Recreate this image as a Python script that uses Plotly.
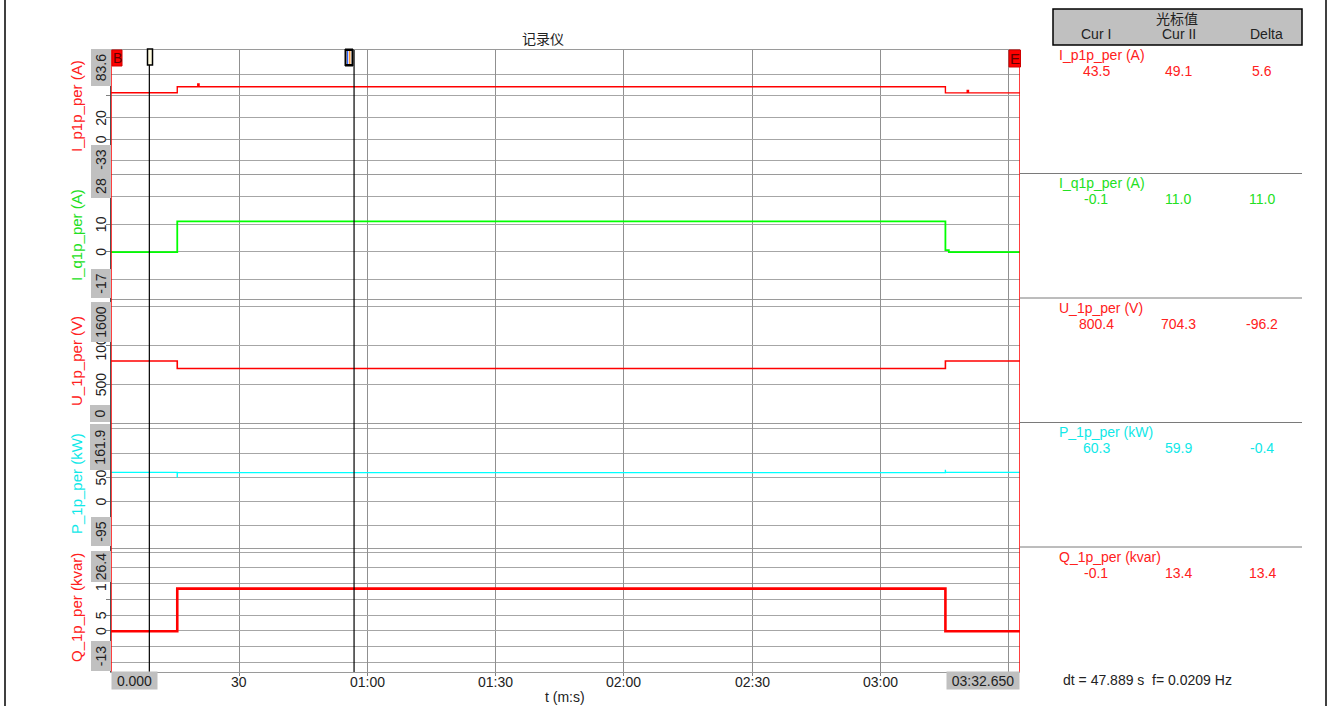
import plotly.graph_objects as go
from plotly.subplots import make_subplots

# ---------------- data ----------------
t_end = 212.65            # s, end of record (03:32.650)
cursor_1 = 8.97           # s, cursor I
cursor_2 = 56.86          # s, cursor II

time_tick_vals = [30, 60, 90, 120, 150, 180, 210]
time_tick_text = ["30", "01:00", "01:30", "02:00", "02:30", "03:00", ""]

t_ip = [0, 15.5, 15.5, 20.3, 20.3, 20.6, 20.6, 195.2, 195.2, 200.3, 200.3, 200.6, 200.6, 212.65]
v_ip = [43.5, 43.5, 49.1, 49.1, 51.8, 51.8, 49.1, 49.1, 43.4, 43.4, 45.6, 45.6, 43.4, 43.4]

t_iq = [0, 15.5, 15.5, 195.2, 195.2, 196.0, 196.0, 212.65]
v_iq = [-0.1, -0.1, 11.0, 11.0, 0.6, 0.6, -0.1, -0.1]

t_u = [0, 15.5, 15.5, 195.2, 195.2, 212.65]
v_u = [800.4, 800.4, 704.3, 704.3, 800.4, 800.4]

t_p = [0, 15.5, 15.5, 15.5, 195.2, 195.2, 195.2, 212.65]
v_p = [60.3, 60.3, 50.0, 59.9, 59.9, 66.0, 60.3, 60.3]

t_q = [0, 15.5, 15.5, 195.2, 195.2, 212.65]
v_q = [-0.1, -0.1, 13.4, 13.4, -0.1, -0.1]

series_t = [t_ip, t_iq, t_u, t_p, t_q]
series_v = [v_ip, v_iq, v_u, v_p, v_q]
names = ["I_p1p_per (A)", "I_q1p_per (A)", "U_1p_per (V)", "P_1p_per (kW)", "Q_1p_per (kvar)"]
line_colors = ["#ff0000", "#00ff00", "#ff0000", "#00ffff", "#ff0000"]
text_colors = ["#ff2020", "#22e022", "#ff2020", "#10e8e8", "#ff2020"]
line_widths = [1.4, 1.8, 1.6, 1.4, 2.6]

y_min = [-33, -17, 0, -95, -13]
y_max = [83.6, 28, 1600, 161.9, 26.4]
y_min_text = ["-33", "-17", "0", "-95", "-13"]
y_max_text = ["83.6", "28", "1600", "161.9", "26.4"]
grid_vals = [[-20, 0, 20, 41, 61], [-10, 0, 10, 20], [500, 1000, 1500],
             [-50, 0, 50, 100, 150], [-10, -5, 0, 5, 10, 15, 20, 25]]
arrow_ticks = [[0, 20, 41], [0, 10], [500, 1000], [0, 50], [0, 5, 10]]
label_vals = [[0, 20], [0, 10], [500, 1000], [0, 50], [0, 5, 13.9]]
label_text = [["0", "20"], ["0", "10"], ["500", "1000"], ["0", "50"], ["0", "5", "1"]]

cur1_vals = ["43.5", "-0.1", "800.4", "60.3", "-0.1"]
cur2_vals = ["49.1", "11.0", "704.3", "59.9", "13.4"]
delta_vals = ["5.6", "11.0", "-96.2", "-0.4", "13.4"]
dt_text = "dt = 47.889 s  f= 0.0209 Hz"

# ---------------- layout helpers (pixel -> paper) ----------------
W, H = 1328, 706
L, R, T, B = 111, 1020, 50, 672
PW, PH = R - L, B - T


def px(x):
    return (x - L) / PW


def py(y):
    return (B - y) / PH


FONT = "Liberation Sans, Arial, sans-serif"
TXT = "#222222"


def note(x, y, text, xref="paper", yref="paper", size=14, color=TXT, family=FONT,
         xanchor="center", yanchor="middle", **kw):
    d = dict(x=x, y=y, xref=xref, yref=yref, text=text, showarrow=False,
             xanchor=xanchor, yanchor=yanchor,
             font=dict(family=family, size=size, color=color))
    d.update(kw)
    return d


fig = make_subplots(rows=5, cols=1, shared_xaxes=True, vertical_spacing=0)

for i in range(5):
    fig.add_trace(go.Scatter(x=series_t[i], y=series_v[i], mode="lines",
                             line=dict(color=line_colors[i], width=line_widths[i]),
                             hoverinfo="skip", showlegend=False), row=i + 1, col=1)
    fig.update_yaxes(row=i + 1, col=1, range=[y_min[i], y_max[i]], fixedrange=True,
                     tickmode="array", tickvals=arrow_ticks[i], showticklabels=False,
                     ticks="outside", ticklen=4, tickcolor="#808080",
                     showgrid=True, gridcolor="#a6a6a6", gridwidth=1,
                     minor=dict(tickmode="array", tickvals=grid_vals[i], showgrid=True,
                                gridcolor="#a6a6a6", gridwidth=1, ticks=""),
                     zeroline=False, showline=True, linecolor="#505050", linewidth=1)
    fig.update_xaxes(row=i + 1, col=1, range=[0, t_end], tickmode="array",
                     tickvals=time_tick_vals, ticktext=time_tick_text,
                     showticklabels=False, showgrid=True, gridcolor="#909090", gridwidth=1.3,
                     zeroline=False, showline=True, mirror=(i == 0), linecolor="#9a9a9a",
                     linewidth=1, ticks="outside" if i == 4 else "", ticklen=3,
                     tickcolor="#808080")

ann = []
shapes = []

# x tick labels (bottom)
for v, s in zip(time_tick_vals, time_tick_text):
    if s:
        ann.append(note(v, py(682), s, xref="x"))
ann.append(note(px(565), py(697), "t (m:s)"))
# gray start / end boxes on time axis
ann.append(note(px(134.5), py(680), "0.000", bgcolor="#c0c0c0", width=45, height=17, borderpad=0))
ann.append(note(px(983), py(680), "03:32.650", bgcolor="#c0c0c0", width=72, height=17, borderpad=0))

# y tick labels, then gray range boxes drawn over them
box_top = [(68, 36), (186, 23), (322, 39), (447, 45), (567, 30)]
box_bot = [(160, 28), (284, 28), (414, 16), (532, 28), (656, 29)]
title_y = [106, 235, 361, 484, 608]
yrefs = ["y", "y2", "y3", "y4", "y5"]
for i in range(5):
    for v, s in zip(label_vals[i], label_text[i]):
        ann.append(note(px(101), v, s, yref=yrefs[i], textangle=-90))
for i in range(5):
    for (cy, ln), s in ((box_top[i], y_max_text[i]), (box_bot[i], y_min_text[i])):
        ann.append(note(px(100.5), py(cy), s, textangle=-90, bgcolor="#c0c0c0",
                        width=ln, height=19, borderpad=0))
    ann.append(note(px(76), py(title_y[i]), names[i], textangle=-90, size=15,
                    color=text_colors[i]))

# title
ann.append(note(px(543), py(38), "记录仪", family="Noto Sans CJK SC"))

# right-hand cursor table
shapes.append(dict(type="rect", xref="paper", yref="paper", x0=px(1053), x1=px(1302),
                   y0=py(45), y1=py(9), fillcolor="#c0c0c0", line=dict(color="#000000", width=1.5),
                   layer="below"))
ann.append(note(px(1177), py(18), "光标值", family="Noto Sans CJK SC"))
for cx, s in ((1096, "Cur I"), (1179, "Cur II"), (1266, "Delta")):
    ann.append(note(px(cx), py(34), s))
row_y = [55, 183, 308, 432, 557]
for i in range(5):
    ann.append(note(px(1057), py(row_y[i]), names[i], xanchor="left", color=text_colors[i]))
    for cx, s in ((1096, cur1_vals[i]), (1178, cur2_vals[i]), (1262, delta_vals[i])):
        ann.append(note(px(cx), py(row_y[i] + 16), s, color=text_colors[i]))
for yy in (173.5, 298, 422.5, 547):
    shapes.append(dict(type="line", xref="paper", yref="paper", x0=px(1020), x1=px(1302),
                       y0=py(yy), y1=py(yy), line=dict(color="#7a7a7a", width=1)))
ann.append(note(px(1061), py(680), dt_text, xanchor="left"))

# cursors and begin/end markers
for cx in (cursor_1, cursor_2):
    shapes.append(dict(type="line", xref="x", yref="paper", x0=cx, x1=cx, y0=py(672), y1=py(50),
                       line=dict(color="#000000", width=1.2), layer="above"))
for cx in (0, t_end):
    shapes.append(dict(type="line", xref="x", yref="paper", x0=cx, x1=cx, y0=py(672), y1=py(50),
                       line=dict(color="#ff0000", width=1.5), layer="above"))
shapes.append(dict(type="rect", xref="paper", yref="paper", x0=px(112), x1=px(122), y0=py(66),
                   y1=py(50), fillcolor="#ff0000", line=dict(color="#d00000", width=1), layer="above"))
shapes.append(dict(type="rect", xref="paper", yref="paper", x0=px(1009), x1=px(1020.5), y0=py(67),
                   y1=py(50), fillcolor="#ff0000", line=dict(color="#d00000", width=1), layer="above"))
ann.append(note(px(117), py(58), "B", size=14, color="#600000"))
ann.append(note(px(1015), py(58.5), "E", size=15, color="#600000"))
# cursor I marker
shapes.append(dict(type="rect", xref="paper", yref="paper", x0=px(147.5), x1=px(152.5), y0=py(65),
                   y1=py(49), fillcolor="#fffbe0", line=dict(color="#000000", width=1.5), layer="above"))
# cursor II marker
shapes.append(dict(type="rect", xref="paper", yref="paper", x0=px(345), x1=px(353), y0=py(66),
                   y1=py(49), fillcolor="#000000", line=dict(color="#000000", width=1), layer="above"))
shapes.append(dict(type="rect", xref="paper", yref="paper", x0=px(346.5), x1=px(351.5), y0=py(64),
                   y1=py(51), fillcolor="#ffffff", line=dict(width=0), layer="above"))
shapes.append(dict(type="line", xref="paper", yref="paper", x0=px(347.6), x1=px(347.6), y0=py(64),
                   y1=py(51), line=dict(color="#3060ff", width=1.2), layer="above"))
shapes.append(dict(type="line", xref="paper", yref="paper", x0=px(349.8), x1=px(349.8), y0=py(64),
                   y1=py(51), line=dict(color="#ff8000", width=1.2), layer="above"))

# outer frame lines
for xx in (5, 1326):
    shapes.append(dict(type="line", xref="paper", yref="paper", x0=px(xx), x1=px(xx), y0=py(706),
                       y1=py(0), line=dict(color="#000000", width=1.5)))

fig.update_layout(width=W, height=H, margin=dict(l=L, r=W - R, t=T, b=H - B),
                  plot_bgcolor="#ffffff", paper_bgcolor="#ffffff", showlegend=False,
                  annotations=ann, shapes=shapes, font=dict(family=FONT, size=14, color=TXT))

fig.write_html("out.html", config={"displayModeBar": False},
               post_script="document.body.style.margin='0px';document.body.style.overflow='hidden';")
